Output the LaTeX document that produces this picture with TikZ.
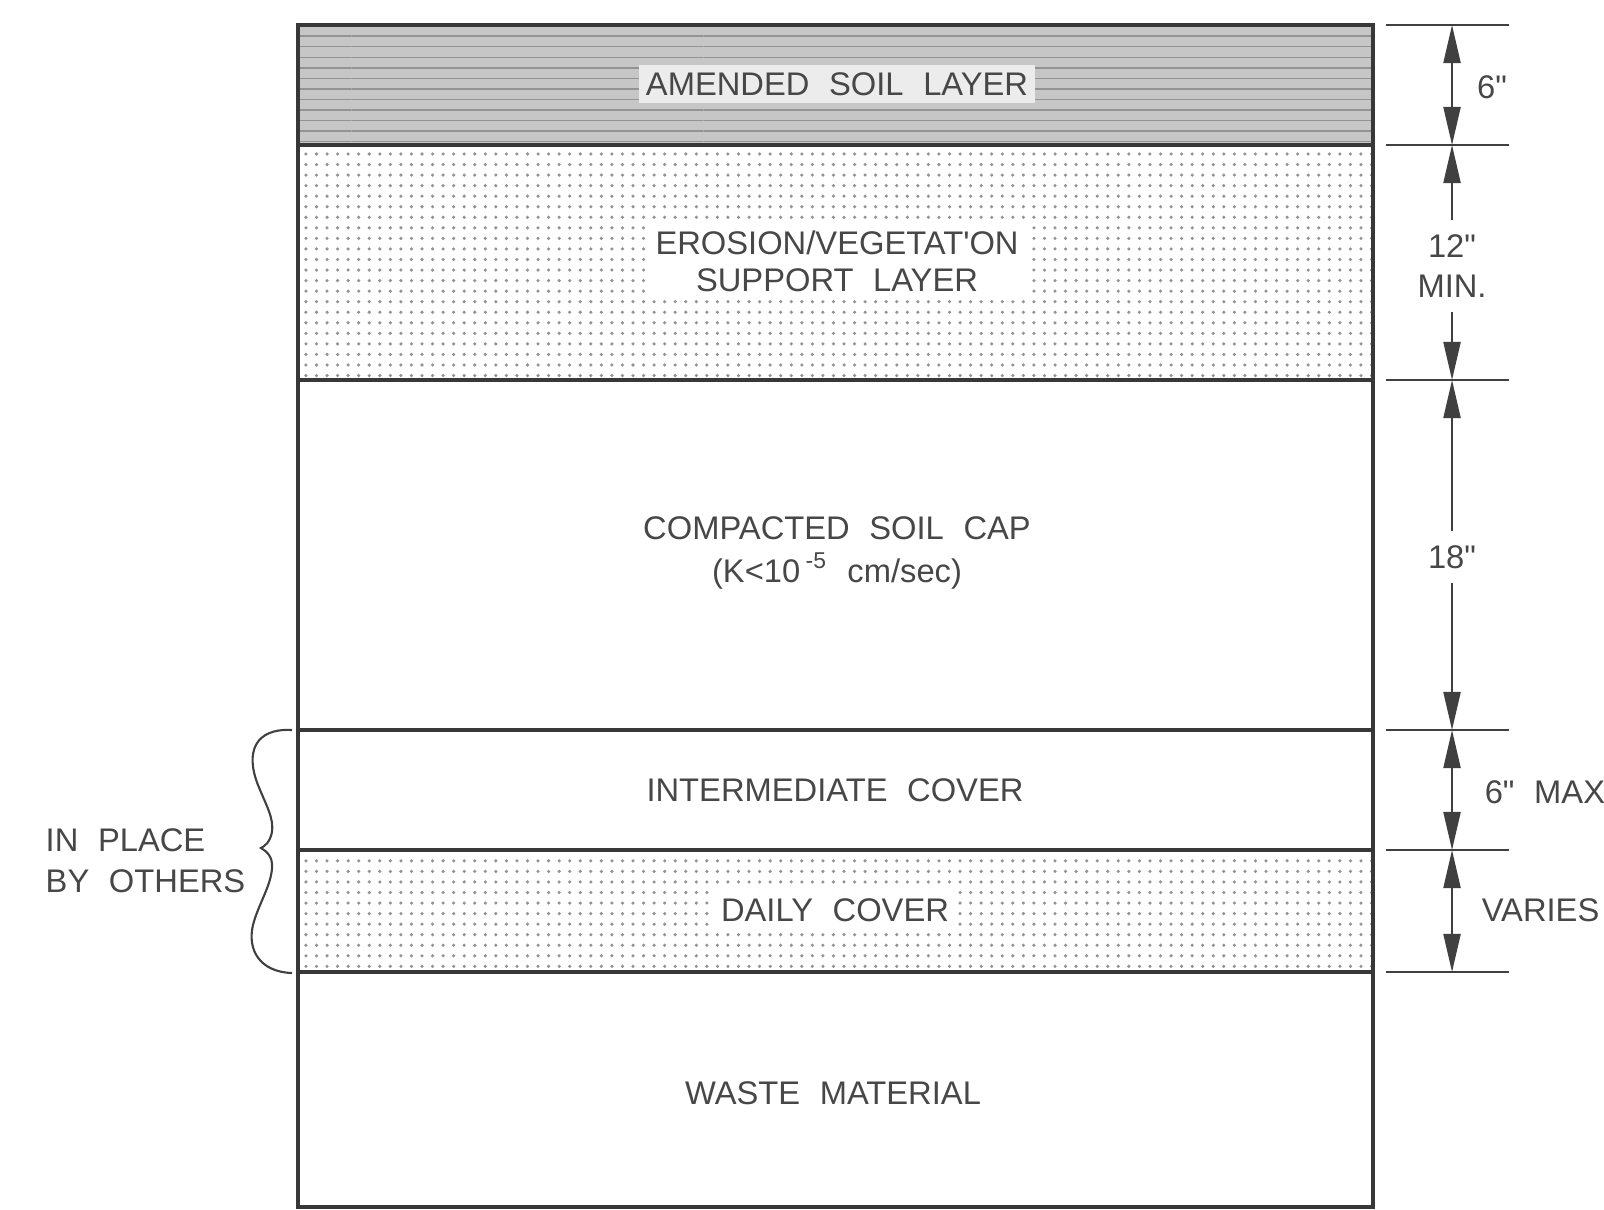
\documentclass[tikz,border=0pt]{standalone}
\usepackage{fontspec}
\setmainfont{Liberation Sans}
\usetikzlibrary{arrows.meta,patterns}
\newcommand\widegaps{\spaceskip=0.6em\relax}
\newcommand\inch{\textquotedbl}

\begin{document}
\begin{tikzpicture}[x=0.01cm,y=-0.01cm,
  >={Triangle[length=3.8mm,width=1.7mm]},
  layertext/.style={text=black!72,align=center,inner sep=2pt,
    font=\fontsize{9.3}{10.5}\selectfont\widegaps},
  dimtext/.style={text=black!72,align=center,inner sep=4pt,
    font=\fontsize{9.3}{11}\selectfont\widegaps},
  edge/.style={draw=black!78,line width=1.1pt},
  dimline/.style={draw=black!75,line width=0.6pt},
  dotted layer/.style={pattern=dots,pattern color=gray!85},
  hatched layer/.style={preaction={fill=gray!45},pattern=horizontal lines,pattern color=gray!85}]
  \useasboundingbox (0,0) rectangle (1604,1209);

  % layers
  \fill[hatched layer] (298,25) rectangle (1373,145);
  \fill[dotted layer] (298,145) rectangle (1373,380);
  \fill[dotted layer] (298,850) rectangle (1373,972);
  \draw[edge] (298,25) rectangle (1373,1207);
  \foreach \y in {145,380,730,850,972}
    \draw[edge] (298,\y) -- (1373,\y);

  \node[layertext,fill=gray!15] (amended) at (837,84) {AMENDED SOIL LAYER};
  \node[layertext,fill=white] (erosion) at (837,261) {EROSION/VEGETAT\textquotesingle ON\\SUPPORT LAYER};
  \node[layertext,font=\fontsize{9.3}{12}\selectfont\widegaps] (compacted) at (837,553)
    {COMPACTED SOIL CAP\\(K<10\,\textsuperscript{-5} cm/sec)};
  \node[layertext] (intermediate) at (835,790) {INTERMEDIATE COVER};
  \node[layertext,fill=white] (daily) at (835,910) {DAILY COVER};
  \node[layertext] (waste) at (833,1093) {WASTE MATERIAL};

  % in place by others
  \node[layertext,anchor=west,align=left,font=\fontsize{9.3}{11.6}\selectfont\widegaps]
    (inplace) at (38,861) {IN PLACE\\BY OTHERS};
  \draw[dimline] (292,730) .. controls (255,728) and (245,752) .. (258,785)
    .. controls (266,805) and (274,818) .. (272,832) .. controls (270,842) and (265,846) .. (261,848)
    .. controls (266,851) and (273,856) .. (272,868) .. controls (271,886) and (258,905) .. (253,925)
    .. controls (247,950) and (260,972) .. (292,973);

  % dimensions
  \foreach \y [count=\i from 0] in {25,145,380,730,850,972} {
    \draw[dimline] (1386,\y) -- (1509,\y);
    \coordinate (t\i) at (1452,\y);
  }
  \node[dimtext] (d1) at (1492,87) {6\inch};
  \node[dimtext,font=\fontsize{9.3}{11.5}\selectfont] (d2) at (1452,266) {12\inch\\MIN.};
  \node[dimtext] (d3) at (1452,557) {18\inch};
  \node[dimtext,anchor=west] (d4) at (1470,792) {6\inch{} MAX};
  \node[dimtext,anchor=west] (d5) at (1467,910) {VARIES};

  \draw[dimline,<->] (t0) -- (t1);
  \draw[dimline,<-] (t1) -- (d2.north);
  \draw[dimline,->] (d2.south) -- (t2);
  \draw[dimline,<-] (t2) -- (d3.north);
  \draw[dimline,->] (d3.south) -- (t3);
  \draw[dimline,<->] (t3) -- (t4);
  \draw[dimline,<->] (t4) -- (t5);
\end{tikzpicture}
\end{document}
